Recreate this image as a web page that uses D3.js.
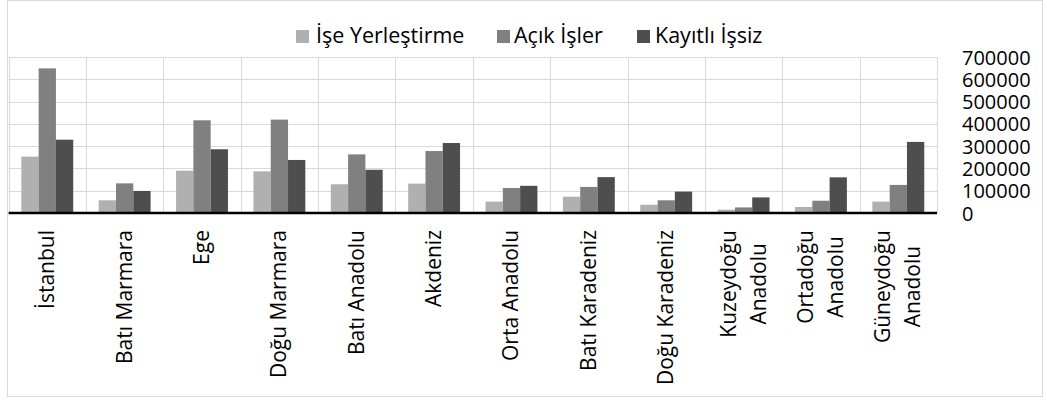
<!DOCTYPE html>
<html>
<head>
<meta charset="utf-8">
<script src="https://cdn.jsdelivr.net/npm/d3@7"></script>
<style>
  html, body { margin: 0; padding: 0; background: #fff; }
  svg { display: block; }
  text { font-family: "Open Sans", sans-serif; fill: #000; }
</style>
</head>
<body>
<svg id="chart" width="1047" height="400"></svg>
<script>
const categories = [
  ["İstanbul"], ["Batı Marmara"], ["Ege"], ["Doğu Marmara"], ["Batı Anadolu"],
  ["Akdeniz"], ["Orta Anadolu"], ["Batı Karadeniz"], ["Doğu Karadeniz"],
  ["Kuzeydoğu", "Anadolu"], ["Ortadoğu", "Anadolu"], ["Güneydoğu", "Anadolu"]
];
const seriesNames = ["İşe Yerleştirme", "Açık İşler", "Kayıtlı İşsiz"];
const iseYerlestirme = [253000, 57000, 190000, 187000, 129000, 132000, 51000, 73000, 37000, 15000, 27000, 51000];
const acikIsler      = [649000, 133000, 416000, 419000, 263000, 278000, 112000, 117000, 57000, 25000, 55000, 126000];
const kayitliIssiz   = [329000, 99000, 286000, 238000, 194000, 314000, 122000, 161000, 96000, 70000, 160000, 319000];
const yTicks = [0, 100000, 200000, 300000, 400000, 500000, 600000, 700000];
const colors = ["#b0b0b0", "#808080", "#4e4e4e"];

const seriesValues = [iseYerlestirme, acikIsler, kayitliIssiz];
const catKeys = categories.map(c => c.join(" "));

const svg = d3.select("#chart");

// outer chart border
svg.append("rect")
  .attr("x", 7.5).attr("y", 0.5).attr("width", 1035).attr("height", 396)
  .attr("fill", "#fff").attr("stroke", "#d9d9d9").attr("stroke-width", 1);

const plot = { left: 8.6, right: 937, top: 57, bottom: 213 };

const x = d3.scaleBand().domain(catKeys).range([plot.left, plot.right]).padding(0);
const xs = d3.scaleBand().domain(seriesNames).range([0, x.bandwidth()])
  .paddingInner(0).paddingOuter(0.737);
const y = d3.scaleLinear().domain([0, 700000]).range([plot.bottom, plot.top]);

// horizontal gridlines
svg.append("g").selectAll("line").data(yTicks.slice(1)).join("line")
  .attr("x1", plot.left).attr("x2", plot.right)
  .attr("y1", d => Math.round(y(d)) + 0.5).attr("y2", d => Math.round(y(d)) + 0.5)
  .attr("stroke", "#d9d9d9").attr("stroke-width", 1);

// vertical gridlines (category boundaries)
const bounds = catKeys.map(k => x(k)).concat([plot.right]);
svg.append("g").selectAll("line").data(bounds).join("line")
  .attr("x1", d => Math.round(d) + 0.5).attr("x2", d => Math.round(d) + 0.5)
  .attr("y1", plot.top).attr("y2", plot.bottom)
  .attr("stroke", "#d9d9d9").attr("stroke-width", 1);

// bars
const barData = [];
catKeys.forEach((k, i) => {
  seriesNames.forEach((s, j) => barData.push({ k, s, j, v: seriesValues[j][i] }));
});
svg.append("g").selectAll("rect").data(barData).join("rect")
  .attr("x", d => x(d.k) + xs(d.s))
  .attr("width", xs.bandwidth())
  .attr("y", d => y(d.v))
  .attr("height", d => y(0) - y(d.v))
  .attr("fill", d => colors[d.j]);

// baseline
svg.append("line")
  .attr("x1", plot.left).attr("x2", plot.right)
  .attr("y1", y(0)).attr("y2", y(0))
  .attr("stroke", "#000").attr("stroke-width", 2.5);

// y axis labels on right
const yAxis = d3.axisRight(y).tickValues(yTicks).tickSize(0).tickPadding(0)
  .tickFormat(d3.format("d"));
const yg = svg.append("g").attr("transform", `translate(962,0)`).call(yAxis);
yg.select(".domain").remove();
yg.selectAll("text").attr("x", 0).attr("dy", "0.35em")
  .style("font-family", "'Open Sans', sans-serif").style("font-size", "20px").attr("fill", "#000");

// category labels (rotated, top-anchored, lines centered)
const labelTop = 230;
const lineGap = 30;
categories.forEach((lines, i) => {
  const cx = x(catKeys[i]) + x.bandwidth() / 2;
  const g = svg.append("g");
  const texts = lines.map(t => g.append("text").text(t)
    .style("font-size", "21px").attr("text-anchor", "middle"));
  const maxW = d3.max(texts, t => t.node().getComputedTextLength());
  const n = lines.length;
  texts.forEach((t, li) => {
    const off = (li - (n - 1) / 2) * lineGap;
    const bx = cx + off + 7;
    const by = labelTop + maxW / 2;
    t.attr("transform", `translate(${bx},${by}) rotate(-90)`);
  });
});

// legend
const legendItems = [
  { name: seriesNames[0], sx: 296, tx: 316 },
  { name: seriesNames[1], sx: 497, tx: 514 },
  { name: seriesNames[2], sx: 637, tx: 655 }
];
const lg = svg.append("g");
legendItems.forEach((it, j) => {
  lg.append("rect").attr("x", it.sx).attr("y", 30).attr("width", 13).attr("height", 13)
    .attr("fill", colors[j]);
  lg.append("text").attr("x", it.tx).attr("y", 43).text(it.name)
    .style("font-size", "21.5px");
});
</script>
</body>
</html>
